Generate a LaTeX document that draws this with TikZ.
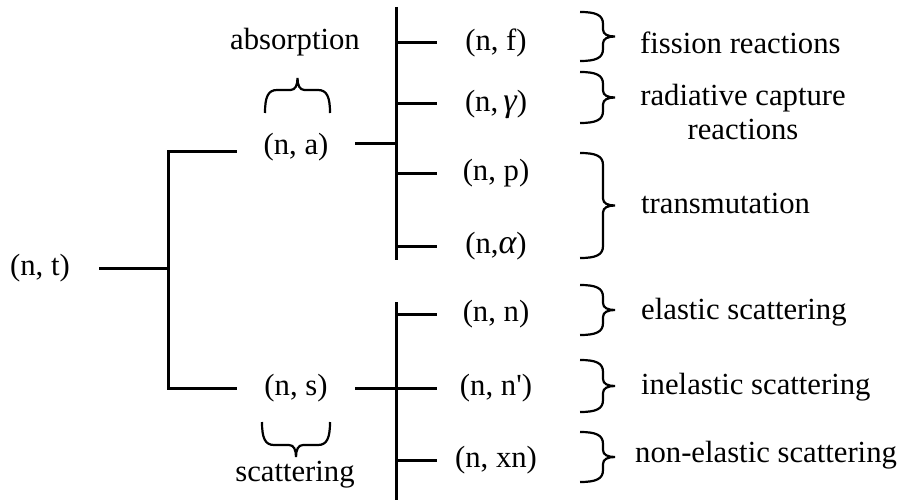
\documentclass[tikz,border=0pt]{standalone}
\usepackage{fontspec}
\setmainfont{Liberation Serif}

\newcommand{\curlybrace}[3]{%
  \draw[curly,shift={#1},rotate=#2]
    (0,-#3) .. controls (16,-#3) and (23,{-#3+3}) .. (23,{-#3+12})
    -- (23,-7) .. controls (23,-2) and (28,0) .. (35,0)
    .. controls (28,0) and (23,2) .. (23,7)
    -- (23,{#3-12}) .. controls (23,{#3-3}) and (16,#3) .. (0,#3);}

\begin{document}
\begin{tikzpicture}[x=1pt,y=-1pt,font=\fontsize{30.7}{34}\selectfont,
  tree/.style={line width=3pt},
  curly/.style={line width=2.2pt},
  react/.style={inner sep=0pt,minimum width=118pt,minimum height=30pt},
  note/.style={inner sep=0pt,anchor=west}]
\useasboundingbox (0,0) rectangle (901,500);

\node[react] (nt) at (40,268) {(n, t)};
\node[react] (na) at (296,147) {(n, a)};
\node[react] (ns) at (296,388) {(n, s)};
\node[inner sep=0pt] (abs) at (295,42) {absorption};
\node[inner sep=0pt] (sca) at (295,475) {scattering};

\node[react] (nf) at (496,43) {(n, f)};
\node[react] (ng) at (496,104) {(n,\,{\itshape\fontsize{34}{34}\selectfont γ})};
\node[react] (np) at (496,173) {(n, p)};
\node[react] (nal) at (496,246) {(n,{\itshape\fontsize{34}{34}\selectfont α})};
\node[react] (nn) at (496,314) {(n, n)};
\node[react] (nnp) at (496,388) {(n, n\textquotesingle)};
\node[react] (nxn) at (496,460) {(n, xn)};

\node[note] (fis) at (640,43) {fission reactions};
\node[inner sep=0pt,align=center] (rad) at (743,112) {radiative capture\\reactions};
\node[note] (tra) at (641,203) {transmutation};
\node[note] (ela) at (641,312) {elastic scattering};
\node[note] (ine) at (641,387) {inelastic scattering};
\node[note] (non) at (635,455) {non-elastic scattering};

% tree
\coordinate (fork) at (168,268);
\coordinate (atop) at (396,7);
\coordinate (abot) at (396,260);
\coordinate (ajoin) at (396,143);
\coordinate (stop) at (396,302);
\coordinate (sbot) at (396,500);
\draw[tree] (nt.east) -- (fork);
\draw[tree] ([yshift=-4pt]na.west) -| (fork) |- (ns.west);
\draw[tree] ([yshift=4pt]na.east) -- (ajoin);
\draw[tree] (ns.east) -- (stop |- ns.east);
\draw[tree] (atop) -- (abot);
\draw[tree] (stop) -- (sbot);
\foreach \leaf in {nf,ng,np,nal}
  \draw[tree] (atop |- \leaf.west) -- (\leaf.west);
\foreach \leaf in {nn,nnp,nxn}
  \draw[tree] (stop |- \leaf.west) -- (\leaf.west);

% braces
\curlybrace{(297.5,113)}{90}{32.5}
\curlybrace{(296,422)}{-90}{34}
\curlybrace{(580,36.5)}{0}{24.5}
\curlybrace{(580,97.5)}{0}{25.5}
\curlybrace{(580,205.5)}{0}{52.5}
\curlybrace{(580,310)}{0}{25}
\curlybrace{(580,386)}{0}{26}
\curlybrace{(580,457)}{0}{25}
\end{tikzpicture}
\end{document}
